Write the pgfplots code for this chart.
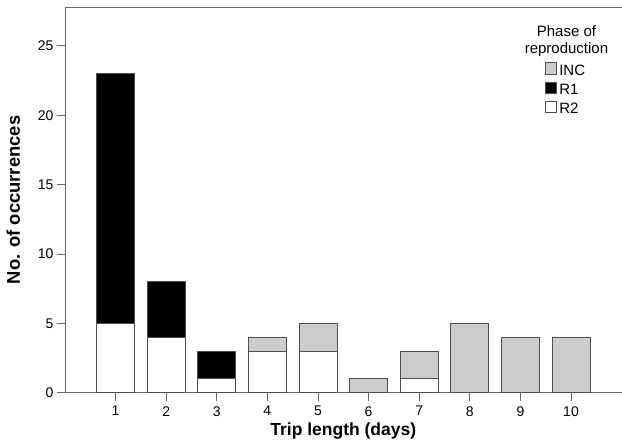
\documentclass[border=0pt]{standalone}
\usepackage{pgfplots}
\pgfplotsset{compat=1.18}
\usepackage{fontspec}
\setmainfont{Liberation Sans}
\definecolor{incgray}{RGB}{204,204,204}
\definecolor{edge}{RGB}{80,80,80}
\begin{document}
\begin{tikzpicture}
\begin{axis}[
    scale only axis,
    width=557pt, height=386pt,
    xmin=0, xmax=11,
    ymin=0, ymax=27.8,
    ybar stacked,
    bar width=0.75,
    axis x line*=box,
    axis y line*=left,
    xtick pos=bottom, ytick pos=left,
    tick align=outside,
    major tick length=8pt,
    xtick={1,...,10},
    ytick={0,5,...,25},
    axis line style={draw=black!60, line width=0.8pt},
    tick style={draw=black!60, line width=0.8pt},
    tick label style={font=\fontsize{14}{16}\selectfont},
    xticklabel style={yshift=-2pt},
    /pgf/number format/assume math mode=true,
    xlabel={\textbf{Trip length (days)}},
    ylabel={\textbf{No. of occurrences}},
    xlabel style={font=\fontsize{17.5}{20}\selectfont},
    ylabel style={font=\fontsize{18.4}{21}\selectfont, yshift=11pt},
    every axis plot/.append style={draw=edge, line width=0.8pt},
    legend image code/.code={\draw[#1] (0pt,-3.5pt) rectangle (11.5pt,8pt);},
    reverse legend,
    legend cell align=left,
    legend style={at={(rel axis cs:0.862,0.8575)}, anchor=north west, draw=none, fill=none,
        inner sep=0pt, row sep=3pt, font=\fontsize{15}{18}\selectfont,
        /tikz/every even column/.append style={column sep=3pt}},
]
\addplot[fill=white] coordinates {(1,5) (2,4) (3,1) (4,3) (5,3) (6,0) (7,1) (8,0) (9,0) (10,0)};
\addplot[fill=black] coordinates {(1,18) (2,4) (3,2) (4,0) (5,0) (6,0) (7,0) (8,0) (9,0) (10,0)};
\addplot[fill=incgray] coordinates {(1,0) (2,0) (3,0) (4,1) (5,2) (6,1) (7,2) (8,5) (9,4) (10,4)};
\legend{R2,R1,INC}
\node[align=center, font=\fontsize{15}{17}\selectfont] at (rel axis cs:0.901,0.912) {Phase of\\reproduction};
\end{axis}
\path (-65pt,-55pt) rectangle (557pt,393pt);
\end{tikzpicture}
\end{document}
